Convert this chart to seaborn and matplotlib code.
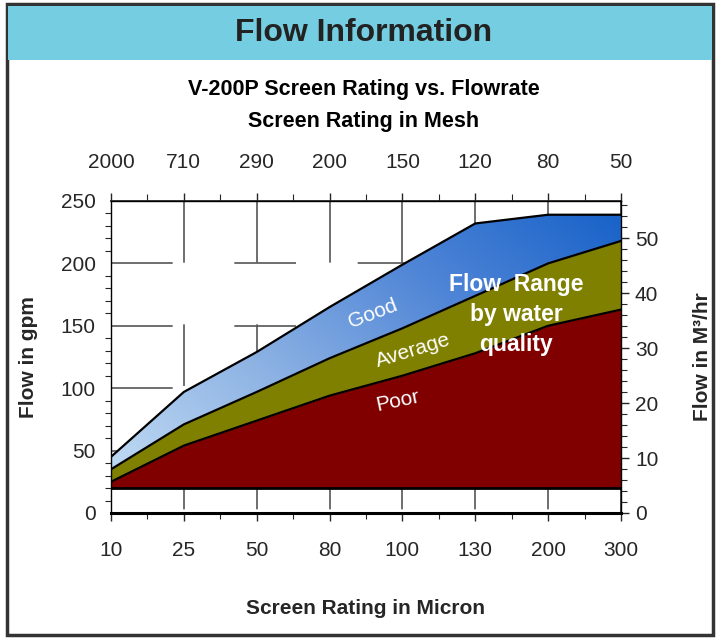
import numpy as np
import matplotlib
matplotlib.use("Agg")
import matplotlib.pyplot as plt
import seaborn as sns
from matplotlib.patches import Rectangle
from matplotlib.colors import LinearSegmentedColormap

# data (flow in gpm)
micron = ["10", "25", "50", "80", "100", "130", "200", "300"]
mesh = ["2000", "710", "290", "200", "150", "120", "80", "50"]
floor_gpm = [20, 20, 20, 20, 20, 20, 20, 20]
poor_gpm = [25, 54, 74, 94, 110, 128, 150, 163]
average_gpm = [35, 71, 97, 124, 148, 174, 200, 218]
good_gpm = [45, 97, 129, 165, 199, 232, 239, 239]

GPM_TO_M3H = 0.22712

sns.set_theme(style="white")
plt.rcParams['font.family'] = ['Liberation Sans', 'DejaVu Sans']

fig = plt.figure(figsize=(7.2, 6.39), dpi=100)

# outer frame and title banner
fig.patches.append(Rectangle((7/720, 4/639), 706/720, 631/639, transform=fig.transFigure,
                             facecolor="none", edgecolor="#333333", lw=2.5, zorder=-2))
fig.patches.append(Rectangle((8/720, 579/639), 704/720, 54/639, transform=fig.transFigure,
                             facecolor="#74cde0", edgecolor="none", zorder=-1))
fig.text(0.505, 606/639, "Flow Information", ha="center", va="center",
         fontsize=23, fontweight="bold", color="#222222")
fig.text(0.505, 550/639, "V-200P Screen Rating vs. Flowrate", ha="center", va="center",
         fontsize=15.5, fontweight="bold", color="black")
fig.text(0.505, 517/639, "Screen Rating in Mesh", ha="center", va="center",
         fontsize=15.5, fontweight="bold", color="black")

ax = fig.add_axes([111/720, 126/639, 510/720, 312/639])
ax.patch.set_alpha(0)
x = np.arange(len(micron))

# dashed grid
for xi in x:
    ax.plot([xi, xi], [250, 0], color="#555555", lw=1.2, dashes=(37, 37), zorder=1)
for yi in [50, 100, 150, 200]:
    ax.plot([0, len(micron) - 1], [yi, yi], color="#555555", lw=1.2, dashes=(37, 37), zorder=1)

# filled bands
ax.fill_between(x, floor_gpm, poor_gpm, color="#800000", lw=0, zorder=2)
ax.fill_between(x, poor_gpm, average_gpm, color="#808000", lw=0, zorder=2)
good_poly = ax.fill_between(x, average_gpm, good_gpm, color="none", lw=0, zorder=2)

# gradient for the "Good" band
cmap = LinearSegmentedColormap.from_list("good", ["#c2dcf4", "#8fb4e4", "#4f85d6", "#1560c8"])
gx, gy = np.meshgrid(np.linspace(0, 1, 200), np.linspace(0, 1, 200))
grad = 0.6 * gx + 0.4 * gy
im = ax.imshow(grad, extent=[0, 7, 20, 250], origin="lower", cmap=cmap,
               aspect="auto", zorder=2, interpolation="bilinear")
path = good_poly.get_paths()[0]
im.set_clip_path(path, transform=ax.transData)

# boundary lines
for series in [good_gpm, average_gpm, poor_gpm]:
    sns.lineplot(x=x, y=series, ax=ax, color="black", lw=1.6, zorder=3, legend=False)
ax.plot([0, 7], [20, 20], color="black", lw=2, zorder=3)

ax.set_xlim(0, len(micron) - 1)
ax.set_ylim(0, 250)
ax.set_xticks(x)
ax.set_xticklabels(micron, fontsize=15)
ax.set_xticks(x[:-1] + 0.5, minor=True)
ax.set_yticks([0, 50, 100, 150, 200, 250])
ax.set_yticks(np.arange(0, 251, 10), minor=True)
ax.tick_params(axis="y", which="major", direction="inout", length=10, width=1, labelsize=15, pad=6)
ax.tick_params(axis="y", which="minor", direction="out", length=4, width=0.8, left=True)
ax.tick_params(axis="x", which="major", direction="out", length=6, width=1, pad=14, bottom=True)
ax.tick_params(axis="x", which="minor", direction="out", length=4, width=0.8, bottom=True)
ax.set_ylabel("Flow in gpm", fontsize=15, fontweight="bold", labelpad=16)
ax.set_xlabel("Screen Rating in Micron", fontsize=15, fontweight="bold", labelpad=28)

for side in ["top", "right", "left"]:
    ax.spines[side].set_color("black")
    ax.spines[side].set_linewidth(1)
ax.spines["bottom"].set_color("black")
ax.spines["bottom"].set_linewidth(2.2)

# top axis (mesh)
axt = ax.secondary_xaxis("top")
axt.set_xticks(x)
axt.set_xticklabels(mesh, fontsize=15)
axt.set_xticks(x[:-1] + 0.5, minor=True)
axt.tick_params(which="major", direction="out", length=6, width=1, pad=15)
axt.tick_params(which="minor", direction="out", length=5, width=0.8)

# right axis (m3/hr)
axr = ax.secondary_yaxis("right", functions=(lambda g: g * GPM_TO_M3H, lambda m: m / GPM_TO_M3H))
axr.set_yticks([0, 10, 20, 30, 40, 50])
axr.set_yticks(np.arange(0, 57, 2), minor=True)
axr.tick_params(which="major", direction="out", length=6, width=1, labelsize=15, pad=4)
axr.tick_params(which="minor", direction="out", length=4, width=0.8)
axr.set_ylabel("Flow in M³/hr", fontsize=15, fontweight="bold", labelpad=25)

# band labels
ax.text(3.6, 160, "Good", color="white", fontsize=15, rotation=21, ha="center", va="center", zorder=4)
ax.text(4.15, 130, "Average", color="white", fontsize=15, rotation=17, ha="center", va="center", zorder=4)
ax.text(3.93, 90, "Poor", color="white", fontsize=15, rotation=12, ha="center", va="center", zorder=4)
ax.text(5.56, 159, "Flow  Range\nby water\nquality", color="white", fontsize=16.5,
        fontweight="bold", ha="center", va="center", linespacing=1.4, zorder=4)

fig.savefig("out.png", dpi=100)
